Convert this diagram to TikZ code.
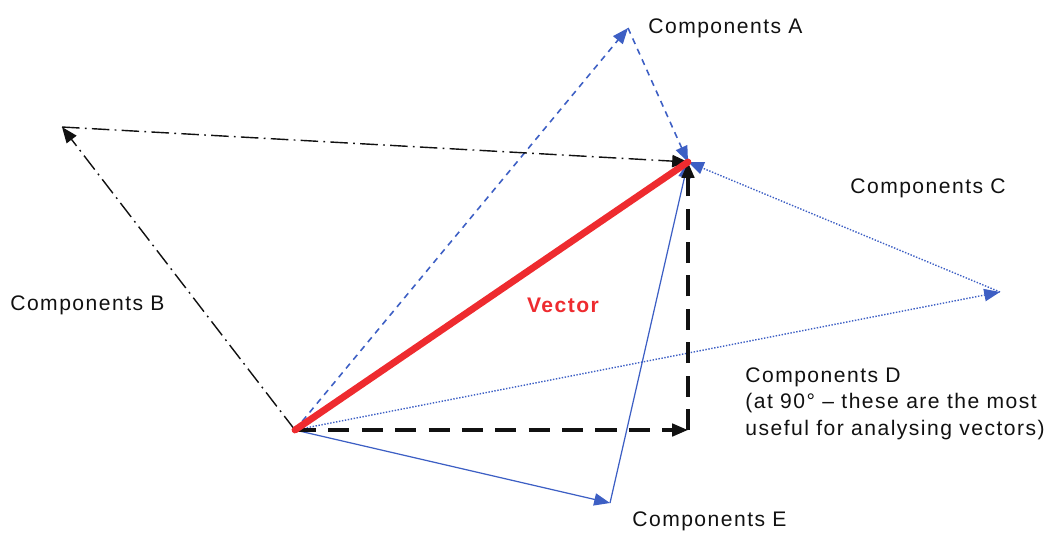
\documentclass[tikz,border=0pt]{standalone}
\usepackage{fontspec}
\setmainfont{Liberation Sans}[LetterSpace=7]
\usetikzlibrary{arrows.meta}
\definecolor{VecRed}{HTML}{EE2B2F}
\definecolor{CompBlue}{HTML}{3D5FC4}
\definecolor{Ink}{HTML}{111111}

\begin{document}
\begin{tikzpicture}[x=0.02cm,y=-0.02cm,font=\fontsize{12}{15.3}\selectfont,
      bluetip/.style={-{Triangle[length=9pt,width=7pt]}},
      blacktip/.style={-{Triangle[length=9pt,width=7pt]}},
      compA/.style={bluetip,CompBlue,line width=0.9pt,dash pattern=on 3.5pt off 3pt},
      compB/.style={blacktip,Ink,line width=0.8pt,dash pattern=on 10pt off 3pt on 1pt off 3pt},
      compC/.style={bluetip,CompBlue,line width=0.8pt,dash pattern=on 0.8pt off 0.9pt},
      compD/.style={blacktip,Ink,line width=2pt,dash pattern=on 12pt off 7pt},
      compE/.style={bluetip,CompBlue,line width=0.7pt},
      vec/.style={VecRed,line width=3.9pt},
      lbl/.style={anchor=west,inner sep=0pt,text=Ink}]
    \useasboundingbox (0,0) rectangle (1044,532);
    % points
    \coordinate (o) at (295,430);
    \coordinate (t) at (688,162);
    \coordinate (pa) at (628,28);
    \coordinate (pb) at (62,127);
    \coordinate (pc) at (1000,292);
    \coordinate (pd) at (688,430);
    \coordinate (pe) at (610,503);
    % component pairs
    \draw[compA] (o) -- (pa);
    \draw[compA] (pa) -- (t);
    \draw[compB] (o) -- (pb);
    \draw[compB] (pb) -- (t);
    \draw[compC] (o) -- (pc);
    \draw[compC] (pc) -- (t);
    \draw[compE] (o) -- (pe);
    \draw[compE] (pe) -- (t);
    \draw[compD] (o) -- (pd);
    \draw[compD] (pd) -- (t);
    \draw[vec,line cap=round] (o) -- (t);
    % labels
    \node[lbl] (la) at (648,28) {Components A};
    \node[lbl] (lb) at (10,305) {Components B};
    \node[lbl] (lc) at (850,188) {Components C};
    \node[text=VecRed,font=\fontsize{12}{14}\selectfont\bfseries] (lv) at (563,305) {Vector};
    \node[lbl,align=left,anchor=north west] (ld) at (745,367)
      {Components D\\(at 90° -- these are the most\\useful for analysing vectors)};
    \node[lbl] (le) at (632,521) {Components E};
  \end{tikzpicture}
\end{document}
